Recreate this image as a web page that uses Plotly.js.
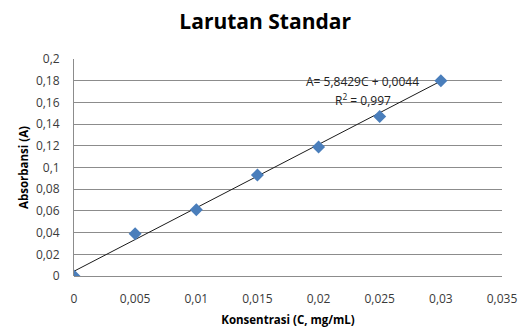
<!DOCTYPE html>
<html>
<head>
<meta charset="utf-8">
<script src="https://cdn.plot.ly/plotly-3.0.1.min.js"></script>
<style>html,body{margin:0;padding:0;background:#fff;}#chart{width:522px;height:331px;}</style>
</head>
<body>
<div id="chart"></div>
<script>
const konsentrasi = [0, 0.005, 0.01, 0.015, 0.02, 0.025, 0.03];
const absorbansi = [0, 0.039, 0.061, 0.093, 0.119, 0.147, 0.180];
const slope = 5.8429;
const intercept = 0.0044;
const trendX = [0, 0.03];
const trendY = trendX.map(x => slope * x + intercept);

const font = "Open Sans, Liberation Sans, sans-serif";
const traces = [
  {x: trendX, y: trendY, mode: 'lines', line: {color: '#1a1a1a', width: 1}, hoverinfo: 'skip', showlegend: false},
  {x: konsentrasi, y: absorbansi, mode: 'markers', marker: {symbol: 'diamond', size: 10, color: '#4a7ebb'}, showlegend: false}
];
const layout = {
  width: 522, height: 331,
  margin: {l: 74, r: 20, t: 59, b: 55},
  separators: ', ',
  paper_bgcolor: '#fff', plot_bgcolor: '#fff',
  font: {family: font, size: 12, color: '#3a3a3a'},
  title: {text: '<b>Larutan Standar</b>', font: {family: font, size: 21, color: '#000'}, x: 0.508, xanchor: 'center', y: 0.935, yanchor: 'middle'},
  xaxis: {
    range: [0, 0.035], dtick: 0.005, tick0: 0, showgrid: false, zeroline: false,
    showline: false, ticks: 'outside', ticklen: 12, tickcolor: 'rgba(0,0,0,0)', tickfont: {size: 12, color: '#3a3a3a'},
    title: {text: '<b>Konsentrasi (C, mg/mL)</b>', font: {size: 11.5, color: '#000'}, standoff: 9}
  },
  yaxis: {
    range: [0, 0.2], dtick: 0.02, tick0: 0, showgrid: true, gridcolor: '#8c8c8c', gridwidth: 1,
    zeroline: true, zerolinecolor: '#8c8c8c', zerolinewidth: 1,
    showline: true, linecolor: '#8c8c8c', linewidth: 1, ticks: 'outside', ticklen: 11, tickcolor: 'rgba(0,0,0,0)',
    tickfont: {size: 12, color: '#3a3a3a'},
    title: {text: '<b>Absorbansi (A)</b>', font: {size: 11.5, color: '#000'}, standoff: 4}
  },
  annotations: [
    {x: 0.0236, y: 0.1795, xref: 'x', yref: 'y', xanchor: 'center', text: 'A= 5,8429C + 0,0044', showarrow: false, font: {size: 12, color: '#222'}},
    {x: 0.0236, y: 0.1625, xref: 'x', yref: 'y', xanchor: 'center', text: 'R<sup>2</sup> = 0,997', showarrow: false, font: {size: 12, color: '#222'}}
  ]
};
Plotly.newPlot('chart', traces, layout, {displayModeBar: false, staticPlot: true});
</script>
</body>
</html>
